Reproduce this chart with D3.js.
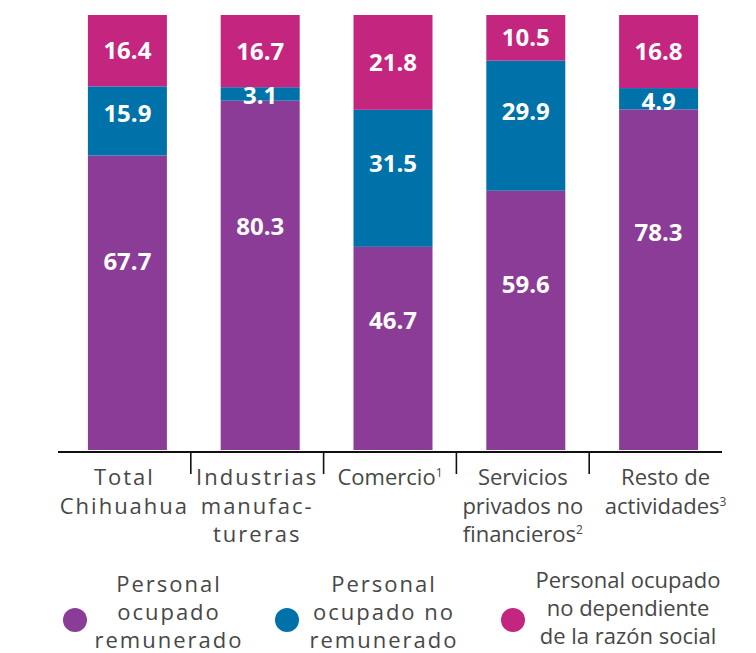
<!DOCTYPE html>
<html>
<head>
<meta charset="utf-8">
<script src="https://cdn.jsdelivr.net/npm/d3@7"></script>
<style>
  body { margin: 0; background: #fff; }
  svg { display: block; font-family: "Open Sans", "Noto Sans", sans-serif; }
</style>
</head>
<body>
<svg id="chart" width="756" height="653"></svg>
<script>
const categories = ["Total Chihuahua", "Industrias manufactureras", "Comercio", "Servicios privados no financieros", "Resto de actividades"];
const remunerado = [67.7, 80.3, 46.7, 59.6, 78.3];
const noRemunerado = [15.9, 3.1, 31.5, 29.9, 4.9];
const noDependiente = [16.4, 16.7, 21.8, 10.5, 16.8];
const tickLabels = [
  ["Total", "Chihuahua"],
  ["Industrias", "manufac-", "tureras"],
  ["Comercio¹"],
  ["Servicios", "privados no", "financieros²"],
  ["Resto de", "actividades³"]
];
const seriesNames = [
  ["Personal", "ocupado", "remunerado"],
  ["Personal", "ocupado no", "remunerado"],
  ["Personal ocupado", "no dependiente", "de la razón social"]
];
const keys = ["rem", "noRem", "noDep"];
const colors = ["#8b3c97", "#0072aa", "#c4257f"];
// where the value sits inside its segment (fraction of height from top)
const labelPos = [0.36, 0.39, 0.5];
const spacedTicks = [true, true, false, false, false];
const spacedLegend = [true, true, false];

const svg = d3.select("#chart");
const textColor = "#474747";

const table = categories.map((c, i) => ({
  cat: c, rem: remunerado[i], noRem: noRemunerado[i], noDep: noDependiente[i]
}));
const series = d3.stack().keys(keys)(table);

const x = d3.scaleBand().domain(categories).range([58, 722]).padding(0);
const y = d3.scaleLinear().domain([0, 100]).range([450, 15]).clamp(true);
const barW = 79, barShift = 3;

const layer = svg.append("g").selectAll("g")
  .data(series)
  .enter().append("g")
  .attr("fill", (d, i) => colors[i]);

layer.selectAll("rect")
  .data(d => d)
  .enter().append("rect")
  .attr("x", d => x(d.data.cat) + x.bandwidth() / 2 - barW / 2 + barShift)
  .attr("width", barW)
  .attr("y", d => y(d[1]))
  .attr("height", d => y(d[0]) - y(d[1]));

series.forEach((s, si) => {
  svg.append("g").selectAll("text")
    .data(s)
    .enter().append("text")
    .attr("x", d => x(d.data.cat) + x.bandwidth() / 2 + barShift)
    .attr("y", d => {
      const top = y(d[1]), h = y(d[0]) - y(d[1]);
      const f = h < 30 ? 0.6 : labelPos[si];
      return top + h * f;
    })
    .attr("dy", "0.36em")
    .attr("text-anchor", "middle")
    .attr("fill", "#fff")
    .attr("font-size", 24)
    .attr("font-weight", 700)
    .text(d => d3.format(".1f")(d.data[s.key]));
});

// axis line and separators
const axisY = 452;
svg.append("line")
  .attr("x1", x.range()[0]).attr("x2", x.range()[1])
  .attr("y1", axisY).attr("y2", axisY)
  .attr("stroke", "#111").attr("stroke-width", 2);

svg.append("g").selectAll("line")
  .data(categories.slice(1))
  .enter().append("line")
  .attr("x1", d => x(d)).attr("x2", d => x(d))
  .attr("y1", axisY).attr("y2", axisY + 22)
  .attr("stroke", "#111").attr("stroke-width", 1.6);

// write a line, turning ¹²³ into small raised digits
function writeLine(sel, str) {
  const sup = { "¹": "1", "²": "2", "³": "3" };
  const last = str.slice(-1);
  if (sup[last]) {
    sel.append("tspan").text(str.slice(0, -1));
    sel.append("tspan").attr("font-size", 12).attr("dy", -8).text(sup[last]);
  } else {
    sel.text(str);
  }
}

tickLabels.forEach((lines, i) => {
  const cx = x(categories[i]) + x.bandwidth() / 2 + (i === 4 ? 10 : 0);
  lines.forEach((ln, j) => {
    const t = svg.append("text")
      .attr("x", cx)
      .attr("y", 485 + j * 28.5)
      .attr("text-anchor", "middle")
      .attr("fill", textColor)
      .attr("font-size", 22)
      .attr("letter-spacing", spacedTicks[i] ? 2 : 0);
    writeLine(t, ln);
  });
});

// legend
const legendX = [75, 287, 513];
const legendTextX = [169, 384, 628];
const legendTop = [592, 592, 588];
seriesNames.forEach((lines, i) => {
  svg.append("circle")
    .attr("cx", legendX[i]).attr("cy", 620)
    .attr("r", 12)
    .attr("fill", colors[i]);
  lines.forEach((ln, j) => {
    svg.append("text")
      .attr("x", legendTextX[i])
      .attr("y", legendTop[i] + j * 28)
      .attr("text-anchor", "middle")
      .attr("fill", textColor)
      .attr("font-size", 22)
      .attr("letter-spacing", spacedLegend[i] ? 2 : 0)
      .text(ln);
  });
});
</script>
</body>
</html>
